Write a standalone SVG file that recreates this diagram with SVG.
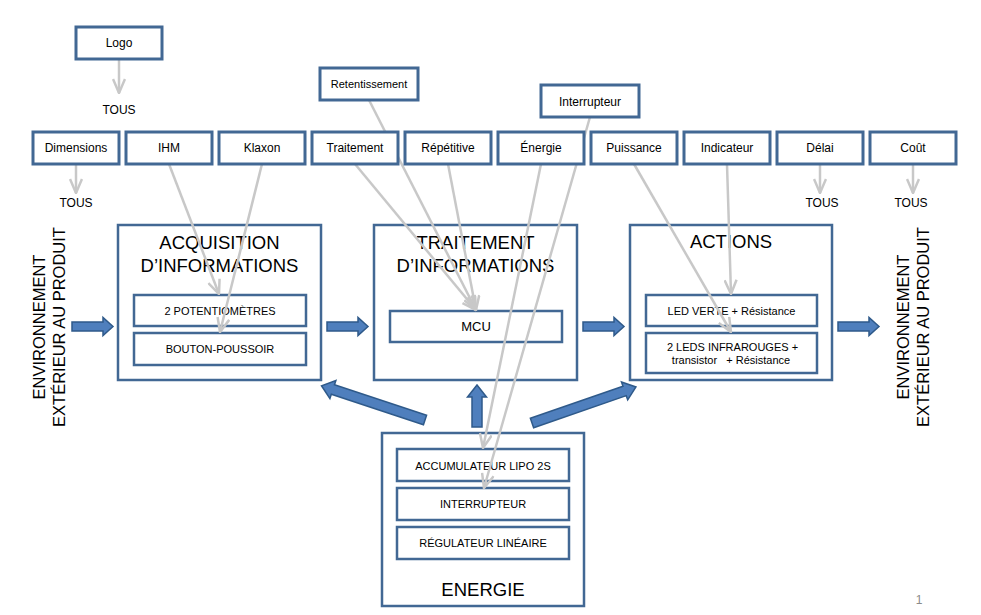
<svg xmlns="http://www.w3.org/2000/svg" width="981" height="615" viewBox="0 0 981 615">
<style>
text{font-family:"Liberation Sans",Arial,sans-serif;fill:#000;text-anchor:middle}
.tb{fill:#fff;stroke:#426894;stroke-width:3}
.blk{fill:#fff;stroke:#426894;stroke-width:2.5}
.in{fill:#fff;stroke:#426894;stroke-width:2.5}
.t12{font-size:12px}
.t11{font-size:11px}
.ttl{font-size:18.5px}
.env{font-size:16.5px}
.ba{fill:#4f7fbd;stroke:#2f5a8a;stroke-width:1.5}
.cn{stroke:#c8c8c8;stroke-width:2.5;fill:none}
</style>
<defs>
<marker id="ah" viewBox="0 0 16 14" refX="15" refY="7" markerWidth="16" markerHeight="14" markerUnits="userSpaceOnUse" orient="auto">
<path d="M1,1 L15,7 L1,13" fill="none" stroke="#c8c8c8" stroke-width="2.5"/>
</marker>
<path id="barr" d="M0,-4.5 L31,-4.5 L31,-9 L41,0 L31,9 L31,4.5 L0,4.5 Z"/>
</defs>

<rect width="981" height="615" fill="#fff"/>

<!-- vertical environment labels -->
<g id="env-left">
<text class="env" transform="translate(45,327) rotate(-90)">ENVIRONNEMENT</text>
<text class="env" transform="translate(65,327) rotate(-90)">EXTÉRIEUR AU PRODUIT</text>
</g>
<g id="env-right">
<text class="env" transform="translate(909,327) rotate(-90)">ENVIRONNEMENT</text>
<text class="env" transform="translate(929,327) rotate(-90)">EXTÉRIEUR AU PRODUIT</text>
</g>

<!-- main blocks -->
<g id="acquisition">
<rect class="blk" x="118" y="225" width="203" height="155"/>
<text class="ttl" x="219.5" y="249">ACQUISITION</text>
<text class="ttl" x="219.5" y="272">D’INFORMATIONS</text>
<g id="potentiometres"><rect class="in" x="134" y="295" width="172" height="31"/><text class="t11" x="220" y="315">2 POTENTIOMÈTRES</text></g>
<g id="bouton"><rect class="in" x="134" y="333" width="172" height="32"/><text class="t11" x="220" y="353">BOUTON-POUSSOIR</text></g>
</g>
<g id="traitement-info">
<rect class="blk" x="374" y="225" width="203" height="155"/>
<text class="ttl" x="475.5" y="249">TRAITEMENT</text>
<text class="ttl" x="475.5" y="272">D’INFORMATIONS</text>
<g id="mcu"><rect class="in" x="390" y="311" width="172" height="31"/><text x="476" y="331" style="font-size:13px">MCU</text></g>
</g>
<g id="actions">
<rect class="blk" x="630" y="225" width="202" height="155"/>
<text class="ttl" x="731" y="248">ACTIONS</text>
<g id="led-verte"><rect class="in" x="646" y="295" width="171" height="31"/><text class="t11" x="731.5" y="315">LED VERTE + Résistance</text></g>
<g id="leds-ir"><rect class="in" x="646" y="333" width="171" height="40"/><text class="t11" x="732.5" y="351">2 LEDS INFRAROUGES +</text><text class="t11" x="731" y="364" xml:space="preserve">transistor   + Résistance</text></g>
</g>
<g id="energie">
<rect class="blk" x="382" y="433" width="202" height="173"/>
<g id="accumulateur"><rect class="in" x="397" y="449" width="172" height="32"/><text class="t11" x="483" y="470">ACCUMULATEUR LIPO 2S</text></g>
<g id="interrupteur-e"><rect class="in" x="397" y="488" width="172" height="32"/><text class="t11" x="483" y="508">INTERRUPTEUR</text></g>
<g id="regulateur"><rect class="in" x="397" y="527" width="172" height="32"/><text class="t11" x="483" y="547">RÉGULATEUR LINÉAIRE</text></g>
<text class="ttl" x="483" y="596">ENERGIE</text>
</g>

<!-- block arrows -->
<g id="flow-arrows">
<use href="#barr" class="ba" transform="translate(72,326.5)"/>
<use href="#barr" class="ba" transform="translate(327,326.5)"/>
<use href="#barr" class="ba" transform="translate(583,326.5)"/>
<use href="#barr" class="ba" transform="translate(838,326.5)"/>
<path class="ba" d="M0,-5 L30,-5 L30,-9.5 L42,0 L30,9.5 L30,5 L0,5 Z" transform="translate(477,427) rotate(-90)"/>
<path class="ba" d="M0,-5 L97,-5 L97,-9.5 L109,0 L97,9.5 L97,5 L0,5 Z" transform="translate(425,420) rotate(-161.7)"/>
<path class="ba" d="M0,-5 L98,-5 L98,-9.5 L110,0 L98,9.5 L98,5 L0,5 Z" transform="translate(532,423) rotate(-19.1)"/>
</g>

<!-- connectors -->
<g id="connectors">
<path class="cn" marker-end="url(#ah)" d="M119,59 L119,93"/>
<path class="cn" marker-end="url(#ah)" d="M76,164 L76,193"/>
<path class="cn" marker-end="url(#ah)" d="M820,164 L820,193"/>
<path class="cn" marker-end="url(#ah)" d="M913,164 L913,193"/>
<path class="cn" marker-end="url(#ah)" d="M169,164 L219,294"/>
<path class="cn" marker-end="url(#ah)" d="M262,164 L220,332"/>
<path class="cn" marker-end="url(#ah)" d="M355,164 L476,310"/>
<path class="cn" marker-end="url(#ah)" d="M369,100 L476,310"/>
<path class="cn" marker-end="url(#ah)" d="M448,164 L476,310"/>
<path class="cn" marker-end="url(#ah)" d="M541,164 L483,448"/>
<path class="cn" marker-end="url(#ah)" d="M590,117 L484,488"/>
<path class="cn" marker-end="url(#ah)" d="M634,164 L731,332"/>
<path class="cn" marker-end="url(#ah)" d="M727,164 L731,294"/>
</g>

<!-- TOUS labels -->
<g id="tous-labels" class="t12">
<text class="t12" x="119" y="114">TOUS</text>
<text class="t12" x="76" y="207">TOUS</text>
<text class="t12" x="822" y="207">TOUS</text>
<text class="t12" x="911" y="207">TOUS</text>
</g>

<!-- top criteria nodes -->
<g id="logo"><rect class="tb" x="76" y="27" width="86" height="32"/><text class="t12" x="119" y="47">Logo</text></g>
<g id="retentissement"><rect class="tb" x="320" y="68" width="98" height="32"/><text class="t11" x="369" y="88">Retentissement</text></g>
<g id="interrupteur"><rect class="tb" x="541" y="85" width="98" height="32"/><text class="t12" x="590" y="106">Interrupteur</text></g>
<g id="dimensions"><rect class="tb" x="33" y="132" width="86" height="32"/><text class="t12" x="76" y="152">Dimensions</text></g>
<g id="ihm"><rect class="tb" x="126" y="132" width="86" height="32"/><text class="t12" x="169" y="152">IHM</text></g>
<g id="klaxon"><rect class="tb" x="219" y="132" width="86" height="32"/><text class="t12" x="262" y="152">Klaxon</text></g>
<g id="traitement"><rect class="tb" x="312" y="132" width="86" height="32"/><text class="t12" x="355" y="152">Traitement</text></g>
<g id="repetitive"><rect class="tb" x="405" y="132" width="86" height="32"/><text class="t12" x="448" y="152">Répétitive</text></g>
<g id="energie-c"><rect class="tb" x="498" y="132" width="86" height="32"/><text class="t12" x="541" y="152">Énergie</text></g>
<g id="puissance"><rect class="tb" x="591" y="132" width="86" height="32"/><text class="t12" x="634" y="152">Puissance</text></g>
<g id="indicateur"><rect class="tb" x="684" y="132" width="86" height="32"/><text class="t12" x="727" y="152">Indicateur</text></g>
<g id="delai"><rect class="tb" x="777" y="132" width="86" height="32"/><text class="t12" x="820" y="152">Délai</text></g>
<g id="cout"><rect class="tb" x="870" y="132" width="86" height="32"/><text class="t12" x="913" y="152">Coût</text></g>

<text x="919" y="604" style="font-size:12px;fill:#8a8a8a">1</text>
</svg>
